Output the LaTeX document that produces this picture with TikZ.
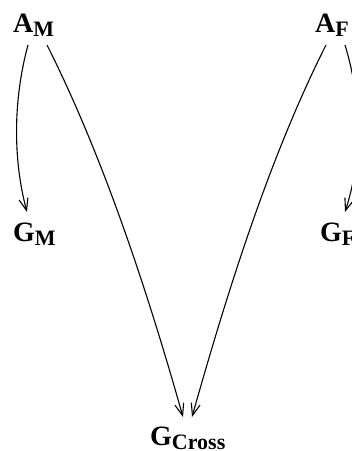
\documentclass[tikz,border=0pt]{standalone}
\usepackage{fontspec}
\setmainfont{Liberation Serif}
\usetikzlibrary{arrows.meta}
\newcommand{\mysub}[1]{\raisebox{-4pt}{\fontsize{22}{24}\selectfont #1}}
\begin{document}
\begin{tikzpicture}[x=1pt,y=-1pt,
  lbl/.style={anchor=base west,inner sep=0pt,font=\fontsize{28}{30}\selectfont\bfseries},
  edge/.style={line width=1.1pt,-{Straight Barb[length=12pt,width=9pt,line width=1.1pt]}}]
\useasboundingbox (0,0) rectangle (352,451);
\node[lbl] (AM) at (13,32) {A\mysub{M}};
\node[lbl] (AF) at (315,32) {A\mysub{F}};
\node[lbl] (GM) at (13,241) {G\mysub{M}};
\node[lbl] (GF) at (320,241) {G\mysub{F}};
\node[lbl] (GC) at (150,445) {G\mysub{Cross}};
% A_M -> G_M
\draw[edge] ([shift={(15,13)}]AM.base west) .. controls (13,100) and (13,160) .. ([shift={(14,-29)}]GM.base west);
% A_M -> G_Cross
\draw[edge] ([shift={(34,13)}]AM.base west) .. controls (105,160) and (150,300) .. ([shift={(33,-28)}]GC.base west);
% A_F -> G_Cross
\draw[edge] ([shift={(11,13)}]AF.base west) .. controls (268,160) and (225,300) .. ([shift={(42,-28)}]GC.base west);
% A_F -> G_F
\draw[edge] ([shift={(30,13)}]AF.base west) .. controls (362,100) and (362,160) .. ([shift={(25,-29)}]GF.base west);
\end{tikzpicture}
\end{document}
